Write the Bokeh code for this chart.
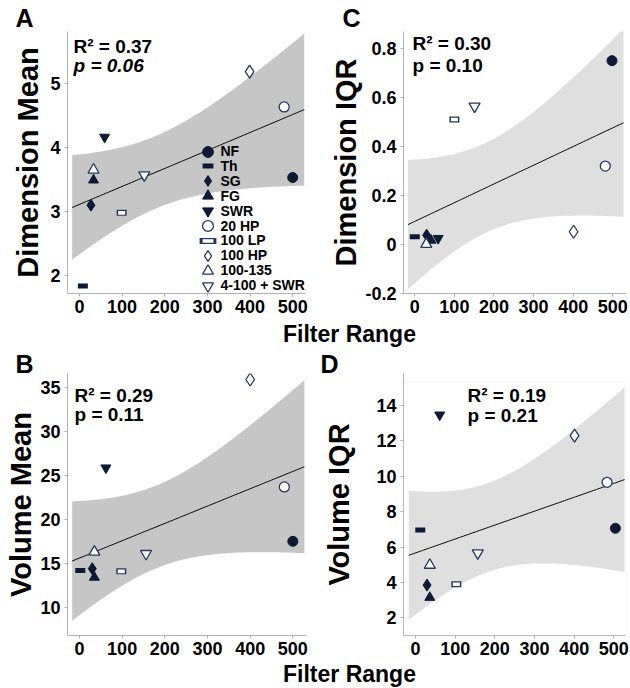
import numpy as np
from bokeh.plotting import figure
from bokeh.models import Label, Legend, LegendItem, FixedTicker, BoxAnnotation
from bokeh.layouts import column, row
from bokeh.embed import file_html
from bokeh.resources import INLINE

FONT = "Liberation Sans"
DARK = "#0e1a35"
OPEN = "#26365f"

# ---------------- data ----------------
groups = ["NF", "Th", "SG", "FG", "SWR", "20 HP", "100 LP", "100 HP", "100-135", "4-100 + SWR"]

x_A = [500, 8, 27, 33, 59, 480, 99, 399, 33, 152]
y_A = [3.53, 1.84, 3.10, 3.49, 4.16, 4.63, 2.98, 5.18, 3.65, 3.57]

x_B = [500, 2, 30, 35, 62, 480, 98, 400, 35, 156]
y_B = [17.53, 14.24, 14.43, 13.45, 25.86, 23.70, 14.13, 35.87, 16.32, 16.13]

x_C = [498, 0, 30, 41, 59, 481, 100, 401, 29, 151]
y_C = [0.749, 0.031, 0.037, 0.016, 0.024, 0.319, 0.509, 0.051, 0.000, 0.563]

x_D = [504, 12, 29, 36, 61, 483, 103, 401, 36, 157]
y_D = [7.06, 6.97, 3.85, 3.15, 13.47, 9.66, 3.90, 12.30, 4.98, 5.66]

x_ticks = [0, 100, 200, 300, 400, 500]
yticks_A = [2, 3, 4, 5]
yticks_B = [10, 15, 20, 25, 30, 35]
yticks_C = [-0.2, 0, 0.2, 0.4, 0.6, 0.8]
ytick_labels_C = ["-0.2", "0", "0.2", "0.4", "0.6", "0.8"]
yticks_D = [2, 4, 6, 8, 10, 12, 14]
D_box_top = 15.3  # upper limit of panel D's framed box

stats_A = ["R² = 0.37", "p = 0.06"]
stats_B = ["R² = 0.29", "p = 0.11"]
stats_C = ["R² = 0.30", "p = 0.10"]
stats_D = ["R² = 0.19", "p = 0.21"]

x_label = "Filter Range"
T_CRIT = 2.306  # Student t, 0.975 quantile, 8 degrees of freedom
BAND_X = (-17, 527)

# ---------------- styles ----------------
def style_for(g):
    filled = dict(fill_color=DARK, line_color=DARK, line_width=1)
    hollow = dict(fill_color="white", line_color=OPEN, line_width=1.3)
    table = {
        "NF": dict(marker="circle", size=10, **filled),
        "SG": dict(marker="diamond", size=12, **filled),
        "FG": dict(marker="triangle", size=10, **filled),
        "SWR": dict(marker="inverted_triangle", size=10, **filled),
        "20 HP": dict(marker="circle", size=10, **hollow),
        "100 HP": dict(marker="diamond", size=13, **hollow),
        "100-135": dict(marker="triangle", size=11, **hollow),
        "4-100 + SWR": dict(marker="inverted_triangle", size=11, **hollow),
    }
    return table.get(g)


def fit_band(x, y, xs):
    x = np.asarray(x, float)
    y = np.asarray(y, float)
    n = len(x)
    b, a = np.polyfit(x, y, 1)
    resid = y - (a + b * x)
    s = np.sqrt(np.sum(resid ** 2) / (n - 2))
    sxx = np.sum((x - x.mean()) ** 2)
    yhat = a + b * xs
    se = s * np.sqrt(1.0 / n + (xs - x.mean()) ** 2 / sxx)
    return yhat, yhat - T_CRIT * se, yhat + T_CRIT * se


def panel(xv, yv, xr, yr, yticks, ylabel, band_color, letter, stats, italic_p,
          width, height, borders, letter_offset, stats_pos, label_standoff,
          title_standoff=0, tick_overrides=None, legend=False):
    bl, br, bt, bb = borders
    p = figure(width=width, height=height, x_range=xr, y_range=yr,
               toolbar_location=None, output_backend="svg",
               min_border_left=bl, min_border_right=br,
               min_border_top=bt, min_border_bottom=bb,
               background_fill_color="white", border_fill_color="white")
    p.outline_line_color = None
    p.grid.visible = False

    # panel letter as a left-aligned title
    p.title.text = letter
    p.title.align = "left"
    p.title.offset = letter_offset
    p.title.standoff = title_standoff
    p.title.text_font = FONT
    p.title.text_font_style = "bold"
    p.title.text_font_size = "25px"
    p.title.text_color = "black"

    xs = np.linspace(BAND_X[0], BAND_X[1], 120)
    yhat, lo, hi = fit_band(xv, yv, xs)
    p.varea(x=xs, y1=lo, y2=hi, fill_color=band_color, fill_alpha=1)
    p.line(x=xs, y=yhat, line_color="black", line_width=1)

    rends = {}
    for i, g in enumerate(groups):
        st = style_for(g)
        if g == "Th":
            r = p.scatter(x=[xv[i]], y=[yv[i]], marker="dash", size=10,
                          line_color=DARK, line_width=5, line_cap="butt")
            rends[g] = [r]
        elif g == "100 LP":
            r1 = p.scatter(x=[xv[i]], y=[yv[i]], marker="dash", size=4,
                           line_color=OPEN, line_width=6, line_cap="square")
            r2 = p.scatter(x=[xv[i]], y=[yv[i]], marker="dash", size=7,
                           line_color="white", line_width=3.6, line_cap="butt")
            rends[g] = [r1, r2]
        else:
            r = p.scatter(x=[xv[i]], y=[yv[i]], **st)
            rends[g] = [r]

    for ax in (p.xaxis[0], p.yaxis[0]):
        ax.axis_line_color = "#b3b3b3"
        ax.major_tick_line_color = "#b3b3b3"
        ax.major_tick_out = 3
        ax.major_tick_in = 0
        ax.minor_tick_line_color = None
        ax.major_label_text_font = FONT
        ax.major_label_text_font_style = "bold"
        ax.major_label_text_font_size = "18px"
        ax.major_label_text_color = "black"
        ax.major_label_standoff = 4
    p.xaxis[0].major_label_standoff = 3
    p.xaxis[0].ticker = FixedTicker(ticks=x_ticks)
    p.yaxis[0].ticker = FixedTicker(ticks=yticks)
    if tick_overrides is not None:
        p.yaxis[0].major_label_overrides = tick_overrides
    p.yaxis[0].axis_label = ylabel
    p.yaxis[0].axis_label_text_font = FONT
    p.yaxis[0].axis_label_text_font_style = "bold"
    p.yaxis[0].axis_label_text_font_size = "29px"
    p.yaxis[0].axis_label_text_color = "black"
    p.yaxis[0].axis_label_standoff = label_standoff

    sx, sy1, sy2 = stats_pos
    p.add_layout(Label(x=sx, y=sy1, x_units="screen", y_units="screen", text=stats[0],
                       text_font=FONT, text_font_style="bold", text_font_size="19px",
                       text_color="black", text_baseline="alphabetic"))
    p.add_layout(Label(x=sx, y=sy2, x_units="screen", y_units="screen", text=stats[1],
                       text_font=FONT,
                       text_font_style="bold italic" if italic_p else "bold",
                       text_font_size="19px", text_color="black",
                       text_baseline="alphabetic"))

    if legend:
        # one single-entry legend per group, stacked 15 px apart
        for i, g in enumerate(groups):
            lg = Legend(items=[LegendItem(label=g, renderers=rends[g])],
                        location=(126.5, 128.5 - 14.9 * i))
            lg.glyph_width = 27
            lg.glyph_height = 27
            lg.label_height = 15
            lg.padding = 0
            lg.margin = 0
            lg.label_standoff = 0
            lg.label_text_font = FONT
            lg.label_text_font_style = "bold"
            lg.label_text_font_size = "14px"
            lg.label_text_color = "black"
            lg.background_fill_alpha = 0
            lg.border_line_alpha = 0
            p.add_layout(lg)
    return p


pA = panel(x_A, y_A, (-28, 530), (1.724, 5.805), yticks_A, "Dimension Mean", "#c6c6c6",
           "A", stats_A, True, 315, 322, (67, 10, 31, 29),
           -52, (6, 247, 228), 3, legend=True)

pC = panel(x_C, y_C, (-28.5, 534.6), (-0.201, 0.868), yticks_C, "Dimension IQR", "#dfdfdf",
           "C", stats_C, False, 315, 322, (88, 4, 31, 29),
           -61, (9, 250, 228), 0,
           tick_overrides=dict(zip(yticks_C, ytick_labels_C)))

pB = panel(x_B, y_B, (-28, 532), (6.86, 36.55), yticks_B, "Volume Mean", "#c6c6c6",
           "B", stats_B, False, 315, 314, (67, 9, 25, 27),
           -52, (7, 240, 221), 0, title_standoff=-8)

pD = panel(x_D, y_D, (-30.3, 529.5), (1.0, 15.81), yticks_D, "Volume IQR", "#dfdfdf",
           "D", stats_D, False, 315, 314, (88, 5, 25, 27),
           -83, (64, 240, 220), 18, title_standoff=-8)
# light frame around panel D (its top at the panel's upper limit)
pD.add_layout(BoxAnnotation(top=D_box_top, fill_alpha=0, line_color="#dcdcdc",
                            line_width=1))


def label_fig(h):
    f = figure(width=630, height=h, x_axis_type=None, y_axis_type=None,
               toolbar_location=None, output_backend="svg", min_border=0,
               x_range=(0, 1), y_range=(0, 1),
               background_fill_color="white", border_fill_color="white")
    f.outline_line_color = None
    f.add_layout(Label(x=349, y=15, x_units="screen", y_units="screen", text=x_label,
                       text_align="center", text_baseline="alphabetic",
                       text_font=FONT, text_font_style="bold",
                       text_font_size="23px", text_color="black"))
    return f


layout = column(row(pA, pC), label_fig(26), row(pB, pD), label_fig(26))

open("out.html", "w").write(file_html(layout, INLINE))
